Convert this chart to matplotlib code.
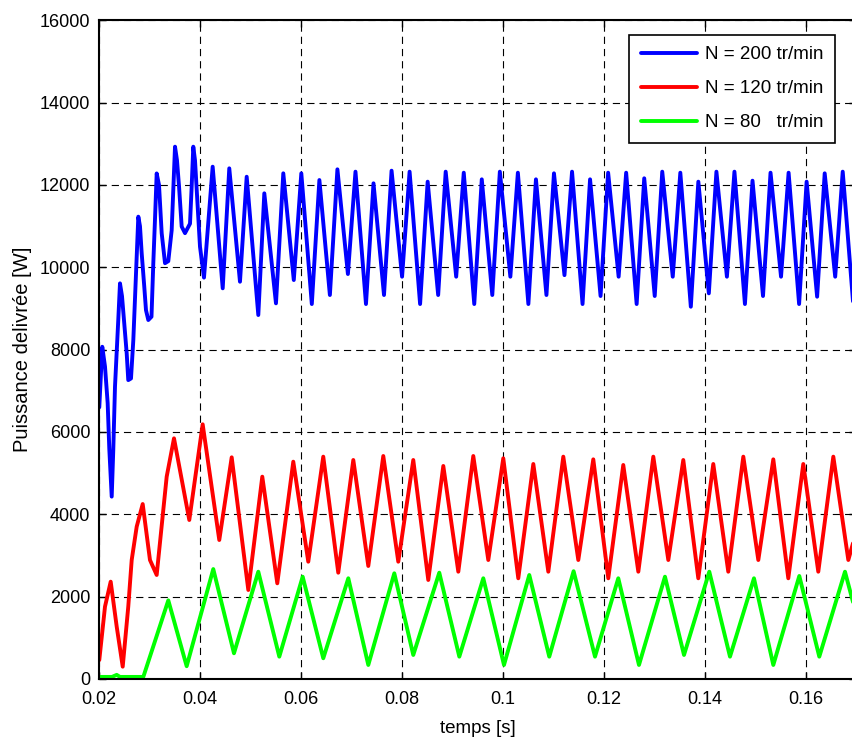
import matplotlib
matplotlib.use('Agg')
import matplotlib.pyplot as plt

# N = 200 tr/min (blue) : peaks / troughs
t_200 = [0.0200, 0.02059, 0.02113, 0.02166, 0.02198, 0.02246, 0.02277, 0.02311, 0.02376, 0.02410,
         0.02450, 0.02489, 0.02543, 0.02574, 0.02628, 0.02674, 0.02741, 0.02773, 0.02806, 0.02840,
         0.02891, 0.02925, 0.02971, 0.03034, 0.03070, 0.03103, 0.03137, 0.03183, 0.03236, 0.03302,
         0.03367, 0.03434, 0.03500, 0.03539, 0.03580, 0.03632, 0.03698, 0.03797, 0.03830, 0.03862,
         0.03896, 0.03995, 0.04074, 0.04246, 0.04445, 0.04575, 0.04787, 0.04920, 0.05150, 0.05269,
         0.05500,
         0.05645, 0.05853, 0.06002, 0.06210, 0.06360, 0.06568, 0.06717, 0.06925, 0.07075, 0.07283,
         0.07432, 0.07640, 0.07790, 0.07998, 0.08147, 0.08355, 0.08505, 0.08713, 0.08862, 0.09070,
         0.09220, 0.09428, 0.09577, 0.09785, 0.09935, 0.10143, 0.10292, 0.10500, 0.10650, 0.10858,
         0.11007, 0.11215, 0.11365, 0.11573, 0.11722, 0.11930, 0.12080, 0.12288, 0.12437, 0.12645,
         0.12795, 0.13003, 0.13152, 0.13360, 0.13510, 0.13718, 0.13867, 0.14075, 0.14225, 0.14433,
         0.14582, 0.14790, 0.14940, 0.15148, 0.15297, 0.15505, 0.15655, 0.15863, 0.16012, 0.16220,
         0.16370, 0.16578, 0.16727, 0.16935]
p_200 = [6600, 8070, 7590, 6700, 5600, 4430, 5560, 7100, 8720, 9610,
         9300, 8720, 7910, 7260, 7300, 8230, 10260, 11230, 11000, 10340,
         9530, 8960, 8720, 8800, 10100, 11150, 12280, 12000, 10830, 10100,
         10150, 10900, 12930, 12600, 11960, 10990, 10830, 11060, 11960, 12930,
         12600, 10500, 9750, 12444, 9490, 12404, 9650, 12200, 8841, 11797,
         9125,
         12283, 9691, 12283, 9108, 12120, 9327, 12380, 9837, 12323, 9108,
         12040, 9327, 12347, 9772, 12323, 9108, 12080, 9327, 12323, 9772,
         12298, 9108, 12137, 9327, 12323, 9772, 12298, 9108, 12137, 9327,
         12283, 9810, 12323, 9108, 12137, 9303, 12298, 9772, 12298, 9108,
         12162, 9303, 12323, 9772, 12298, 9043, 12080, 9368, 12323, 9772,
         12323, 9108, 12104, 9303, 12298, 9772, 12298, 9108, 12080, 9286,
         12283, 9772, 12323, 9108]

# N = 120 tr/min (red)
t_120 = [0.0200, 0.02113, 0.02226, 0.02345, 0.02464, 0.02574, 0.02642, 0.02741, 0.02860, 0.03004,
         0.03137, 0.03335, 0.03480, 0.03783, 0.04048, 0.04377, 0.04623, 0.04952, 0.05229, 0.05526,
         0.05843, 0.06140, 0.06437, 0.06734, 0.07032, 0.07329, 0.07626, 0.07923, 0.08220, 0.08517,
         0.08815, 0.09112, 0.09409, 0.09706, 0.10003, 0.10300, 0.10598, 0.10895, 0.11192, 0.11489,
         0.11786, 0.12083, 0.12380, 0.12678, 0.12975, 0.13272, 0.13569, 0.13866, 0.14163, 0.14460,
         0.14758, 0.15055, 0.15352, 0.15649, 0.15946, 0.16243, 0.16541, 0.16838, 0.1700]
p_120 = [460, 1757, 2364, 1271, 299, 1757, 2890, 3700, 4250, 2890,
         2526, 4914, 5846, 3862, 6186, 3376, 5384, 2162, 4914, 2324,
         5278, 2849, 5400, 2582, 5319, 2745, 5416, 2849, 5319, 2405,
         5174, 2606, 5416, 2890, 5360, 2446, 5222, 2606, 5400, 2890,
         5335, 2446, 5198, 2606, 5400, 2890, 5319, 2446, 5222, 2606,
         5400, 2890, 5335, 2446, 5222, 2606, 5400, 2890, 3600]

# N = 80 tr/min (green)
t_80 = [0.0200, 0.02252, 0.02345, 0.02410, 0.02872, 0.03367, 0.03731, 0.04258, 0.04668, 0.05150,
        0.05566, 0.06029, 0.06437, 0.06933, 0.07329, 0.07844, 0.08220, 0.08735, 0.09132, 0.09607,
        0.10017, 0.10518, 0.10914, 0.11396, 0.11820, 0.12281, 0.12691, 0.13206, 0.13583, 0.14084,
        0.14494, 0.14969, 0.15352, 0.15867, 0.16263, 0.16772, 0.17208]
p_80 = [50, 50, 100, 50, 50, 1910, 310, 2670, 624, 2606,
        542, 2485, 503, 2446, 340, 2567, 583, 2582, 542, 2446,
        340, 2526, 542, 2618, 542, 2446, 340, 2485, 583, 2606,
        542, 2446, 340, 2502, 542, 2606, 583]

xticks = [0.02, 0.04, 0.06, 0.08, 0.1, 0.12, 0.14, 0.16]
xtick_labels = ['0.02', '0.04', '0.06', '0.08', '0.1', '0.12', '0.14', '0.16']
yticks = [0, 2000, 4000, 6000, 8000, 10000, 12000, 14000, 16000]

plt.rcParams['font.family'] = ['Liberation Sans', 'DejaVu Sans']

fig = plt.figure(figsize=(8.53, 7.44), dpi=100)
ax = fig.add_axes([0.1164, 0.0874, 0.8877, 0.8853])

kw = dict(lw=2.8, solid_joinstyle='round', solid_capstyle='round')
ax.plot(t_200, p_200, color=(0, 0, 1), label='N = 200 tr/min', **kw)
ax.plot(t_120, p_120, color=(1, 0, 0), label='N = 120 tr/min', **kw)
ax.plot(t_80, p_80, color=(0, 1, 0), label='N = 80   tr/min', **kw)

ax.set_xlim(0.02, 0.17)
ax.set_ylim(0, 16000)
ax.set_xticks(xticks)
ax.set_xticklabels(xtick_labels)
ax.set_yticks(yticks)
ax.set_yticklabels([str(v) for v in yticks])
ax.tick_params(direction='in', length=5, width=1, top=True, right=True, labelsize=13)
ax.tick_params(axis='x', pad=8.5)
ax.tick_params(axis='y', pad=6.5)
ax.grid(True, color='k', linestyle=(0, (6.5, 4.5)), linewidth=0.8)
for s in ax.spines.values():
    s.set_linewidth(1.5)

ax.set_xlabel('temps [s]', fontsize=13.5, labelpad=9)
ax.set_ylabel('Puissance delivrée [W]', fontsize=14.5)
ax.yaxis.set_label_coords(-0.089, 0.5)

leg = ax.legend(loc='upper right', bbox_to_anchor=(0.9716, 0.9777), borderaxespad=0,
                fontsize=13.5, frameon=True, fancybox=False, edgecolor='k', framealpha=1,
                handlelength=3.0, handletextpad=0.45, labelspacing=0.9, borderpad=0.6)
leg.get_frame().set_linewidth(1.2)

fig.savefig('out.png', dpi=100)
